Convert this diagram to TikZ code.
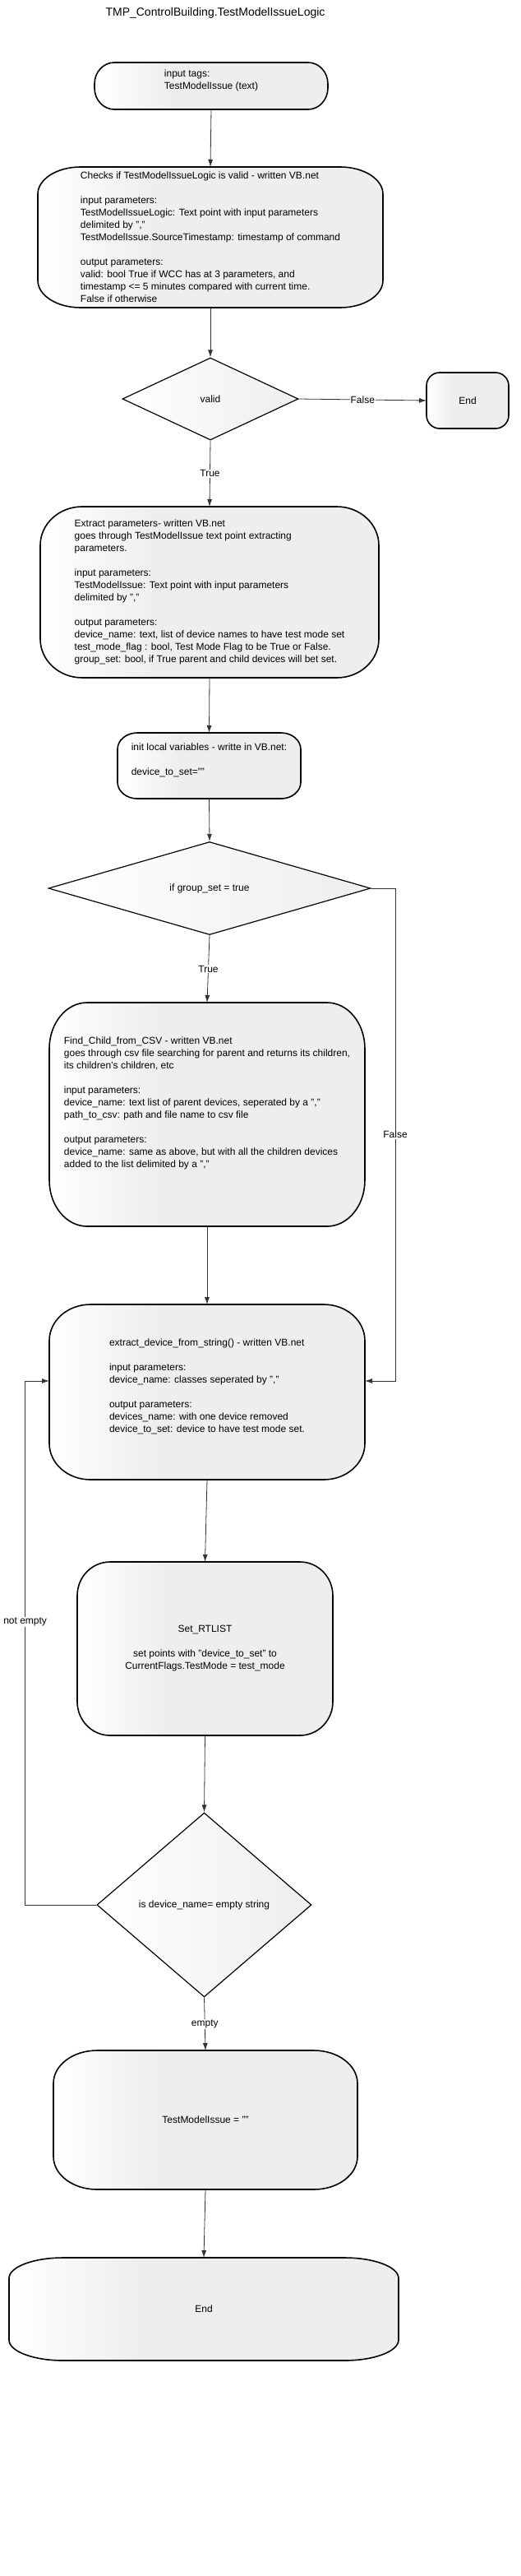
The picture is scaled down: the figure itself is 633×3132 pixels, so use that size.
\documentclass[tikz,border=0pt]{standalone}
\usepackage{fontspec}
\setmainfont{Liberation Sans}
\usetikzlibrary{shapes.geometric, arrows.meta, backgrounds}

\definecolor{boxgray}{HTML}{EEEEEE}
\definecolor{linegray}{HTML}{333333}
\pgfdeclarehorizontalshading{boxfade}{100bp}{color(0bp)=(white); color(25bp)=(white); color(42bp)=(boxgray); color(100bp)=(boxgray)}

\newcommand{\bodyfont}{\fontsize{12}{15}\selectfont}

% outline with elliptic corners, drawn behind a box node
\newcommand{\boxoutline}[3]{%
  \begin{scope}[on background layer]
    \path[boxline] ([xshift=#2]#1.north west) -- ([xshift=-#2]#1.north east)
      arc[start angle=90, end angle=0, x radius=#2, y radius=#3]
      -- ([yshift=#3]#1.south east)
      arc[start angle=0, end angle=-90, x radius=#2, y radius=#3]
      -- ([xshift=#2]#1.south west)
      arc[start angle=270, end angle=180, x radius=#2, y radius=#3]
      -- ([yshift=-#3]#1.north west)
      arc[start angle=180, end angle=90, x radius=#2, y radius=#3] -- cycle;
  \end{scope}}

\begin{document}
\begin{tikzpicture}[x=1pt, y=-1pt, >={Latex[length=9pt,width=6pt]},
    procbox/.style={rectangle, inner sep=0pt, outer sep=0pt, align=left, font=\bodyfont},
    decision/.style={diamond, draw=black, line width=1.2pt, inner sep=0pt, left color=white, right color=boxgray, font=\bodyfont},
    flow/.style={->, draw=linegray, line width=0.8pt},
    lbl/.style={fill=white, inner sep=1pt, font=\bodyfont},
    boxline/.style={draw=black, line width=1.6pt, shade, shading=boxfade}]
  \useasboundingbox (0,0) rectangle (633,3132);

  % Title
  \node[font=\fontsize{14}{16}\selectfont] (title) at (262,16) {TMP\_ControlBuilding.TestModelIssueLogic};

  % Input tags
  \node[procbox, minimum width=284pt, minimum height=57pt] (intags) at (257,104.5) {input tags:\\TestModelIssue (text)\\~};
  \boxoutline{intags}{24pt}{26pt}

  % Validity check
  \node[procbox, minimum width=420pt, minimum height=171pt] (checks) at (256,288.5) {Checks if TestModelIssueLogic is valid - written VB.net\\[15pt]
    input parameters:\\
    TestModelIssueLogic: Text point with input parameters\\
    delimited by ","\\
    TestModelIssue.SourceTimestamp: timestamp of command\\[15pt]
    output parameters:\\
    valid: bool True if WCC has at 3 parameters, and\\
    timestamp <= 5 minutes compared with current time.\\
    False if otherwise};
  \boxoutline{checks}{52pt}{33pt}

  % valid?
  \node[decision, minimum width=214pt, minimum height=100pt] (valid) at (256,485) {valid};
  \node[procbox, align=center, minimum width=100pt, minimum height=68pt] (endA) at (569,487) {End};
  \boxoutline{endA}{16pt}{16pt}

  % Extract parameters
  \node[procbox, minimum width=412pt, minimum height=208pt] (extract) at (255,720) {Extract parameters- written VB.net\\
    goes through TestModelIssue text point extracting\\
    parameters.\\[15pt]
    input parameters:\\
    TestModelIssue: Text point with input parameters\\
    delimited by ","\\[15pt]
    output parameters:\\
    device\_name: text, list of device names to have test mode set\\
    test\_mode\_flag : bool, Test Mode Flag to be True or False.\\
    group\_set: bool, if True parent and child devices will bet set.};
  \boxoutline{extract}{51pt}{47pt}

  % Local variables
  \node[procbox, minimum width=223pt, minimum height=80pt] (init) at (254.5,931) {init local variables - writte in VB.net:\\[15pt]
    device\_to\_set=""\\~};
  \boxoutline{init}{24pt}{20pt}

  % group_set?
  \node[decision, minimum width=392pt, minimum height=113pt] (group) at (255,1080) {if group\_set = true};

  % Find children
  \node[procbox, minimum width=384pt, minimum height=272pt] (find) at (252,1355) {Find\_Child\_from\_CSV - written VB.net\\
    goes through csv file searching for parent and returns its children,\\
    its children's children, etc\\[15pt]
    input parameters:\\
    device\_name: text list of parent devices, seperated by a ","\\
    path\_to\_csv: path and file name to csv file\\[15pt]
    output parameters:\\
    device\_name: same as above, but with all the children devices\\
    added to the list delimited by a ","\\~\\~};
  \boxoutline{find}{46pt}{56pt}

  % Extract one device
  \node[procbox, minimum width=384pt, minimum height=213pt] (extractdev) at (252,1692.5) {extract\_device\_from\_string() - written VB.net\\[15pt]
    input parameters:\\
    device\_name: classes seperated by ","\\[15pt]
    output parameters:\\
    devices\_name: with one device removed\\
    device\_to\_set: device to have test mode set.\\~};
  \boxoutline{extractdev}{50pt}{44pt}

  % Set RTLIST
  \node[procbox, align=center, minimum width=311pt, minimum height=211pt] (setrt) at (249.5,2004.5) {Set\_RTLIST\\[15pt]
    set points with "device\_to\_set" to\\
    CurrentFlags.TestMode = test\_mode};
  \boxoutline{setrt}{40pt}{41pt}

  % empty?
  \node[decision, minimum width=261pt, minimum height=224pt] (isdev) at (248.5,2316) {is device\_name= empty string};

  % Reset and end
  \node[procbox, align=center, minimum width=370pt, minimum height=169pt] (testmodel) at (250,2577.5) {TestModelIssue = ""};
  \boxoutline{testmodel}{53pt}{40pt}
  \node[procbox, align=center, minimum width=474pt, minimum height=125pt] (endB) at (248,2807.5) {End};
  \boxoutline{endB}{66pt}{25pt}

  % Bends of the return lines
  \coordinate (fbend) at (481,1679);
  \coordinate (nebend) at (30.6,1679);

  % Connectors
  \draw[flow] (intags.south) -- (checks.north);
  \draw[flow] (checks.south) -- (valid.north);
  \draw[flow] (valid.east) -- node[lbl] {False} (endA.west);
  \draw[flow] (valid.south) -- node[lbl] {True} (extract.north);
  \draw[flow] (extract.south) -- (init.north);
  \draw[flow] (init.south) -- (group.north);
  \draw[flow] (group.south) -- node[lbl] {True} (find.north);
  \draw[flow] (group.east) -| node[lbl, pos=0.75] {False} (fbend) -- (fbend -| extractdev.east);
  \draw[flow] (find.south) -- (extractdev.north);
  \draw[flow] (extractdev.south) -- (setrt.north);
  \draw[flow] (setrt.south) -- (isdev.north);
  \draw[flow] (isdev.west) -| node[lbl, pos=0.77] {not empty} (nebend) -- (nebend -| extractdev.west);
  \draw[flow] (isdev.south) -- node[lbl] {empty} (testmodel.north);
  \draw[flow] (testmodel.south) -- (endB.north);
\end{tikzpicture}
\end{document}
